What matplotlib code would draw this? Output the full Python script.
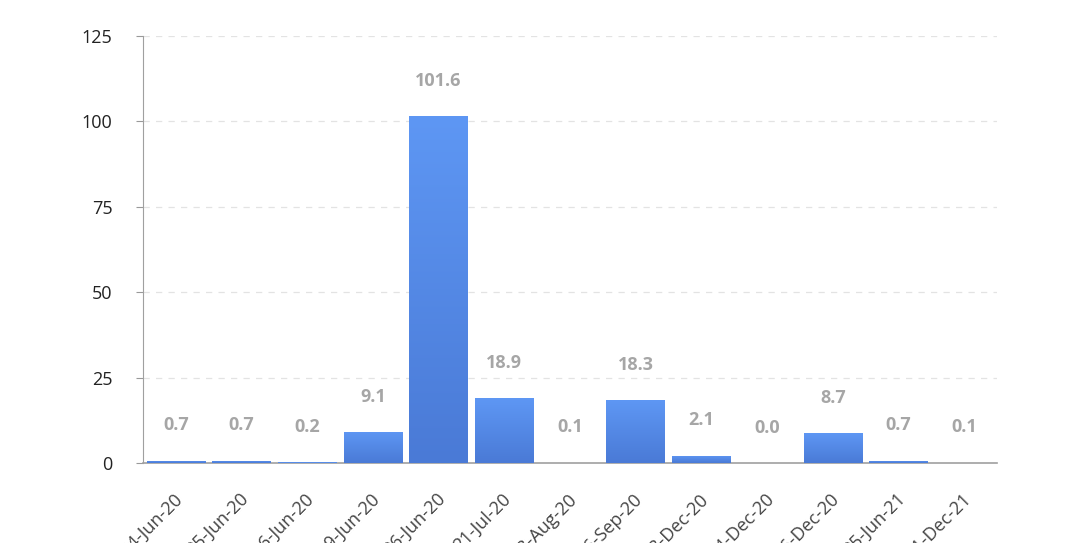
import matplotlib
matplotlib.use("Agg")
import matplotlib.pyplot as plt
import matplotlib.transforms as mtransforms
import numpy as np
from matplotlib.colors import LinearSegmentedColormap

categories = ["04-Jun-20", "05-Jun-20", "16-Jun-20", "19-Jun-20", "26-Jun-20",
              "21-Jul-20", "13-Aug-20", "16-Sep-20", "18-Dec-20", "24-Dec-20",
              "26-Dec-20", "25-Jun-21", "31-Dec-21"]
values = [0.7, 0.7, 0.2, 9.1, 101.6, 18.9, 0.1, 18.3, 2.1, 0.0, 8.7, 0.7, 0.1]
yticks = [0, 25, 50, 75, 100, 125]

plt.rcParams['font.family'] = ['Open Sans', 'DejaVu Sans']

fig = plt.figure(figsize=(10.8, 5.43), dpi=100)
ax = fig.add_axes([143/1080, 1-463/543, (997-143)/1080, (463-36)/543])

x = np.arange(len(categories))
bars = ax.bar(x, values, width=0.89, color='none', zorder=3)
ax.set_xlim(-0.5, len(categories)-0.5)
ax.set_ylim(0, 125)

cmap = LinearSegmentedColormap.from_list('g', ['#4a7ad6', '#5e97f4'])
grad = np.linspace(0, 1, 256).reshape(-1, 1)
for b in bars:
    h = b.get_height()
    if h <= 0:
        continue
    x0 = b.get_x(); w = b.get_width()
    im = ax.imshow(grad, extent=[x0, x0+w, 0, h], origin='lower', aspect='auto',
                   cmap=cmap, zorder=3)
    im.set_clip_path(b)
ax.set_aspect('auto')

for xi, v in zip(x, values):
    ax.annotate(f"{v:.1f}", (xi, v), xytext=(0, 19), textcoords='offset points',
                ha='center', va='bottom', fontsize=13, fontweight='bold',
                color='#a6a6a6')

ax.set_yticks(yticks)
ax.set_yticklabels([str(t) for t in yticks], fontsize=13, color='#222222')
ax.set_xticks(x)
ax.set_xticklabels(categories, rotation=45, ha='right', va='center',
                   rotation_mode='anchor', fontsize=13, color='#444444')
ax.tick_params(axis='x', length=0, pad=24)
shift = mtransforms.ScaledTranslation(4/100, 0, fig.dpi_scale_trans)
for lbl in ax.get_xticklabels():
    lbl.set_transform(lbl.get_transform() + shift)
ax.tick_params(axis='y', length=5, color='#999999', pad=17, direction='out')
ax.grid(axis='y', linestyle=(0, (5, 5)), color='#e3e3e3', linewidth=0.9, zorder=0)
for s in ['top', 'right']:
    ax.spines[s].set_visible(False)
ax.spines['left'].set_color('#a0a0a0')
ax.spines['bottom'].set_color('#a0a0a0')
ax.spines['bottom'].set_linewidth(1.2)
ax.set_axisbelow(True)

fig.savefig('out.png', dpi=100)
